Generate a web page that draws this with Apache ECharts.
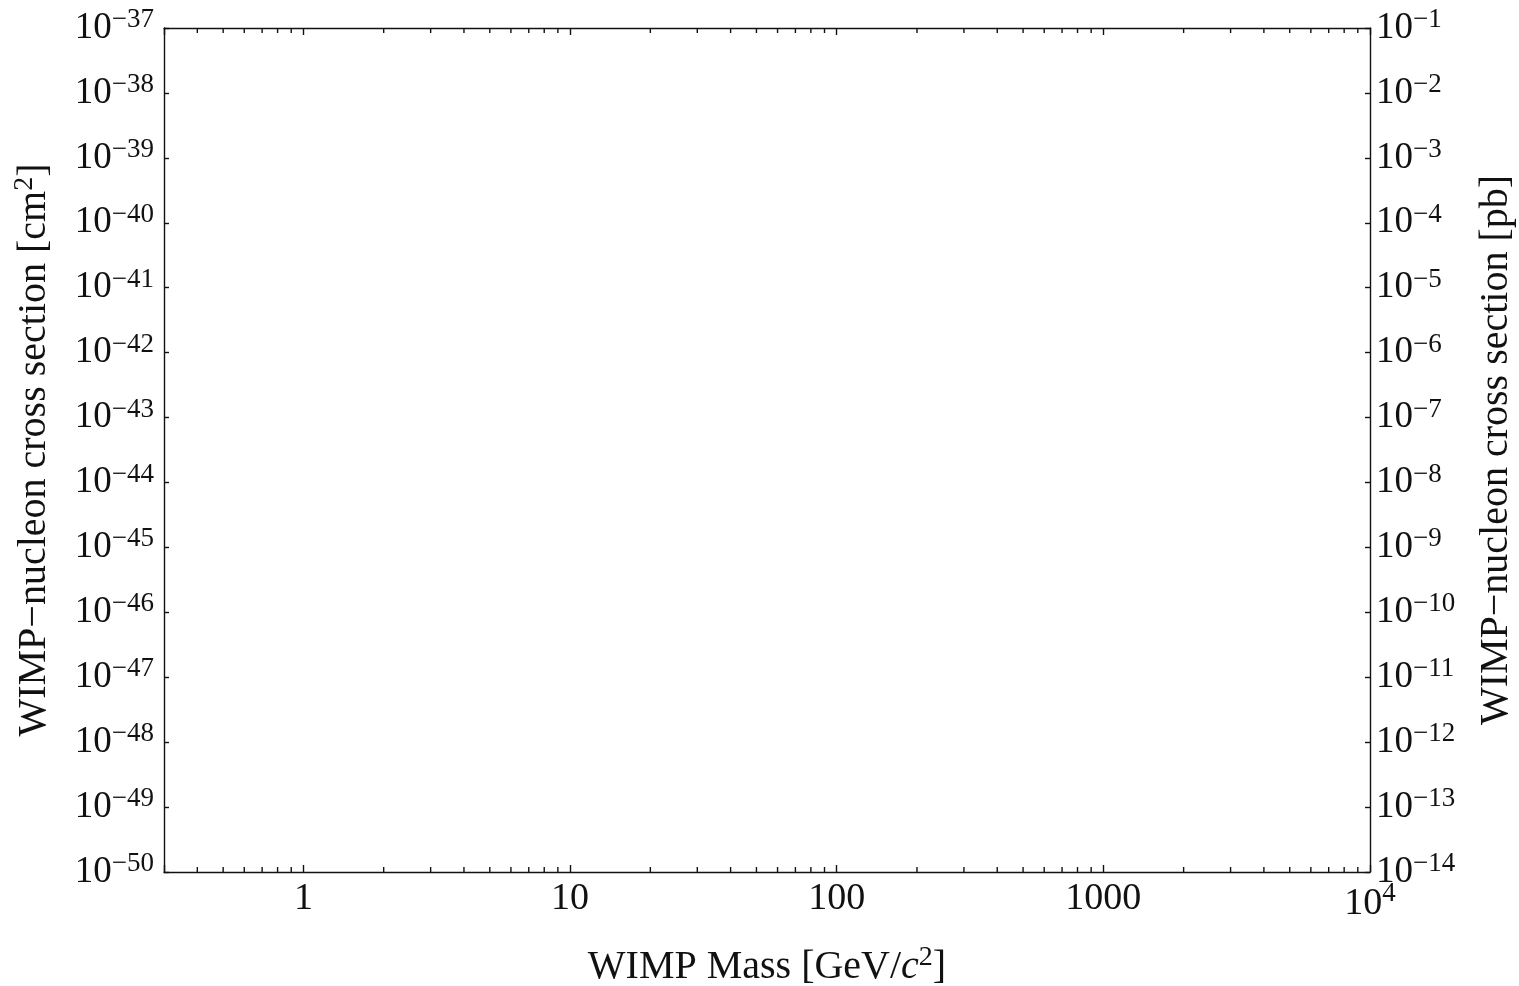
<!DOCTYPE html>
<html>
<head>
<meta charset="utf-8">
<script src="https://cdn.jsdelivr.net/npm/echarts@6/dist/echarts.min.js"></script>
<style>
html,body{margin:0;padding:0;background:#fff;}
#chart{width:1519px;height:986px;}
</style>
</head>
<body>
<div id="chart"></div>
<script>
// ---- data ----
const xRange = [0.3, 10000];
const xMajorTicks = [1, 10, 100, 1000, 10000];
const xTickLabels = ['1', '10', '100', '1000', '{b|10}{sx|4}'];
const xMinorTicks = [0.4,0.5,0.6,0.7,0.8,0.9, 2,3,4,5,6,7,8,9, 20,30,40,50,60,70,80,90,
  200,300,400,500,600,700,800,900, 2000,3000,4000,5000,6000,7000,8000,9000];
// y axes are drawn in powers of ten (exponent of the cross section)
const yLeftExpRange = [-50, -37];   // cm^2
const yRightExpRange = [-14, -1];   // pb
const xName = 'WIMP Mass [GeV/{i|c}{s|2}]';
const yLeftName = 'WIMP\u2212nucleon cross section [cm{s|2}]';
const yRightName = 'WIMP\u2212nucleon cross section [pb]';

const FONT = '"Liberation Serif", "DejaVu Serif", serif';
const INK = '#111111';

function expLabel(e) {
  e = Math.round(e);
  return '{b|10}{s|' + (e < 0 ? '\u2212' + (-e) : e) + '}';
}
function xLabel(v) {
  for (let i = 0; i < xMajorTicks.length; i++) {
    if (Math.abs(Math.log10(v) - Math.log10(xMajorTicks[i])) < 1e-6) return xTickLabels[i];
  }
  return '';
}
const richY = {
  b: {fontFamily: FONT, fontSize: 37, color: INK},
  s: {fontFamily: FONT, fontSize: 27, color: INK, verticalAlign: 'bottom', padding: [0, 0, 16, 0]}
};
const richX = {
  b: {fontFamily: FONT, fontSize: 38, color: INK},
  sx: {fontFamily: FONT, fontSize: 27, color: INK, verticalAlign: 'bottom', padding: [0, 0, 21, 0]}
};
const richName = {
  i: {fontFamily: FONT, fontSize: 40, color: INK, fontStyle: 'italic'},
  s: {fontFamily: FONT, fontSize: 28, color: INK, verticalAlign: 'bottom', padding: [0, 0, 18, 0]}
};
const axisLine = {show: true, onZero: false, lineStyle: {color: INK, width: 1.4}};
const tickStyle = {color: INK, width: 1.4};
const nameStyle = {fontFamily: FONT, fontSize: 40, color: INK, rich: richName};

const chart = echarts.init(document.getElementById('chart'), null, {renderer: 'canvas'});
chart.setOption({
  animation: false,
  backgroundColor: '#fff',
  grid: {left: 164, right: 149, top: 28, bottom: 114, containLabel: false, outerBoundsMode: 'none'},
  xAxis: [{
    type: 'log', logBase: 10, min: xRange[0], max: xRange[1],
    position: 'bottom',
    axisLine: axisLine,
    axisTick: {show: true, inside: true, length: 7, lineStyle: tickStyle},
    splitLine: {show: false},
    axisLabel: {show: true, margin: 8, formatter: xLabel, fontFamily: FONT, fontSize: 38, color: INK, rich: richX, hideOverlap: false},
    name: xName, nameLocation: 'middle', nameGap: 72,
    nameTextStyle: nameStyle
  }, {
    type: 'log', logBase: 10, min: xRange[0], max: xRange[1],
    position: 'top',
    axisLine: axisLine,
    axisTick: {show: true, inside: true, length: 7, lineStyle: tickStyle},
    splitLine: {show: false},
    axisLabel: {show: false}
  }],
  yAxis: [{
    type: 'value', min: yLeftExpRange[0], max: yLeftExpRange[1], interval: 1,
    position: 'left',
    axisLine: axisLine,
    axisTick: {show: true, inside: true, length: 5, lineStyle: tickStyle},
    splitLine: {show: false},
    axisLabel: {show: true, margin: 10, formatter: expLabel, rich: richY, fontFamily: FONT, fontSize: 37, color: INK, hideOverlap: false},
    name: yLeftName, nameLocation: 'middle', nameGap: 107, nameRotate: 90,
    nameTextStyle: nameStyle
  }, {
    type: 'value', min: yRightExpRange[0], max: yRightExpRange[1], interval: 1,
    position: 'right',
    axisLine: axisLine,
    axisTick: {show: true, inside: true, length: 5, lineStyle: tickStyle},
    splitLine: {show: false},
    axisLabel: {show: true, margin: 6, formatter: expLabel, rich: richY, fontFamily: FONT, fontSize: 37, color: INK, hideOverlap: false},
    name: yRightName, nameLocation: 'middle', nameGap: 106, nameRotate: 90,
    nameTextStyle: nameStyle
  }],
  series: [{
    type: 'custom',
    xAxisIndex: 0, yAxisIndex: 0,
    silent: true,
    clip: false,
    data: xMinorTicks.map(v => [v, yLeftExpRange[0]]),
    encode: {x: 0, y: 1},
    renderItem: function (params, api) {
      const v = api.value(0);
      const b = api.coord([v, yLeftExpRange[0]]);
      const t = api.coord([v, yLeftExpRange[1]]);
      const st = {stroke: INK, lineWidth: 1.4};
      return {type: 'group', children: [
        {type: 'line', shape: {x1: b[0], y1: b[1], x2: b[0], y2: b[1] - 5}, style: st},
        {type: 'line', shape: {x1: t[0], y1: t[1], x2: t[0], y2: t[1] + 5}, style: st}
      ]};
    }
  }]
});
</script>
</body>
</html>
